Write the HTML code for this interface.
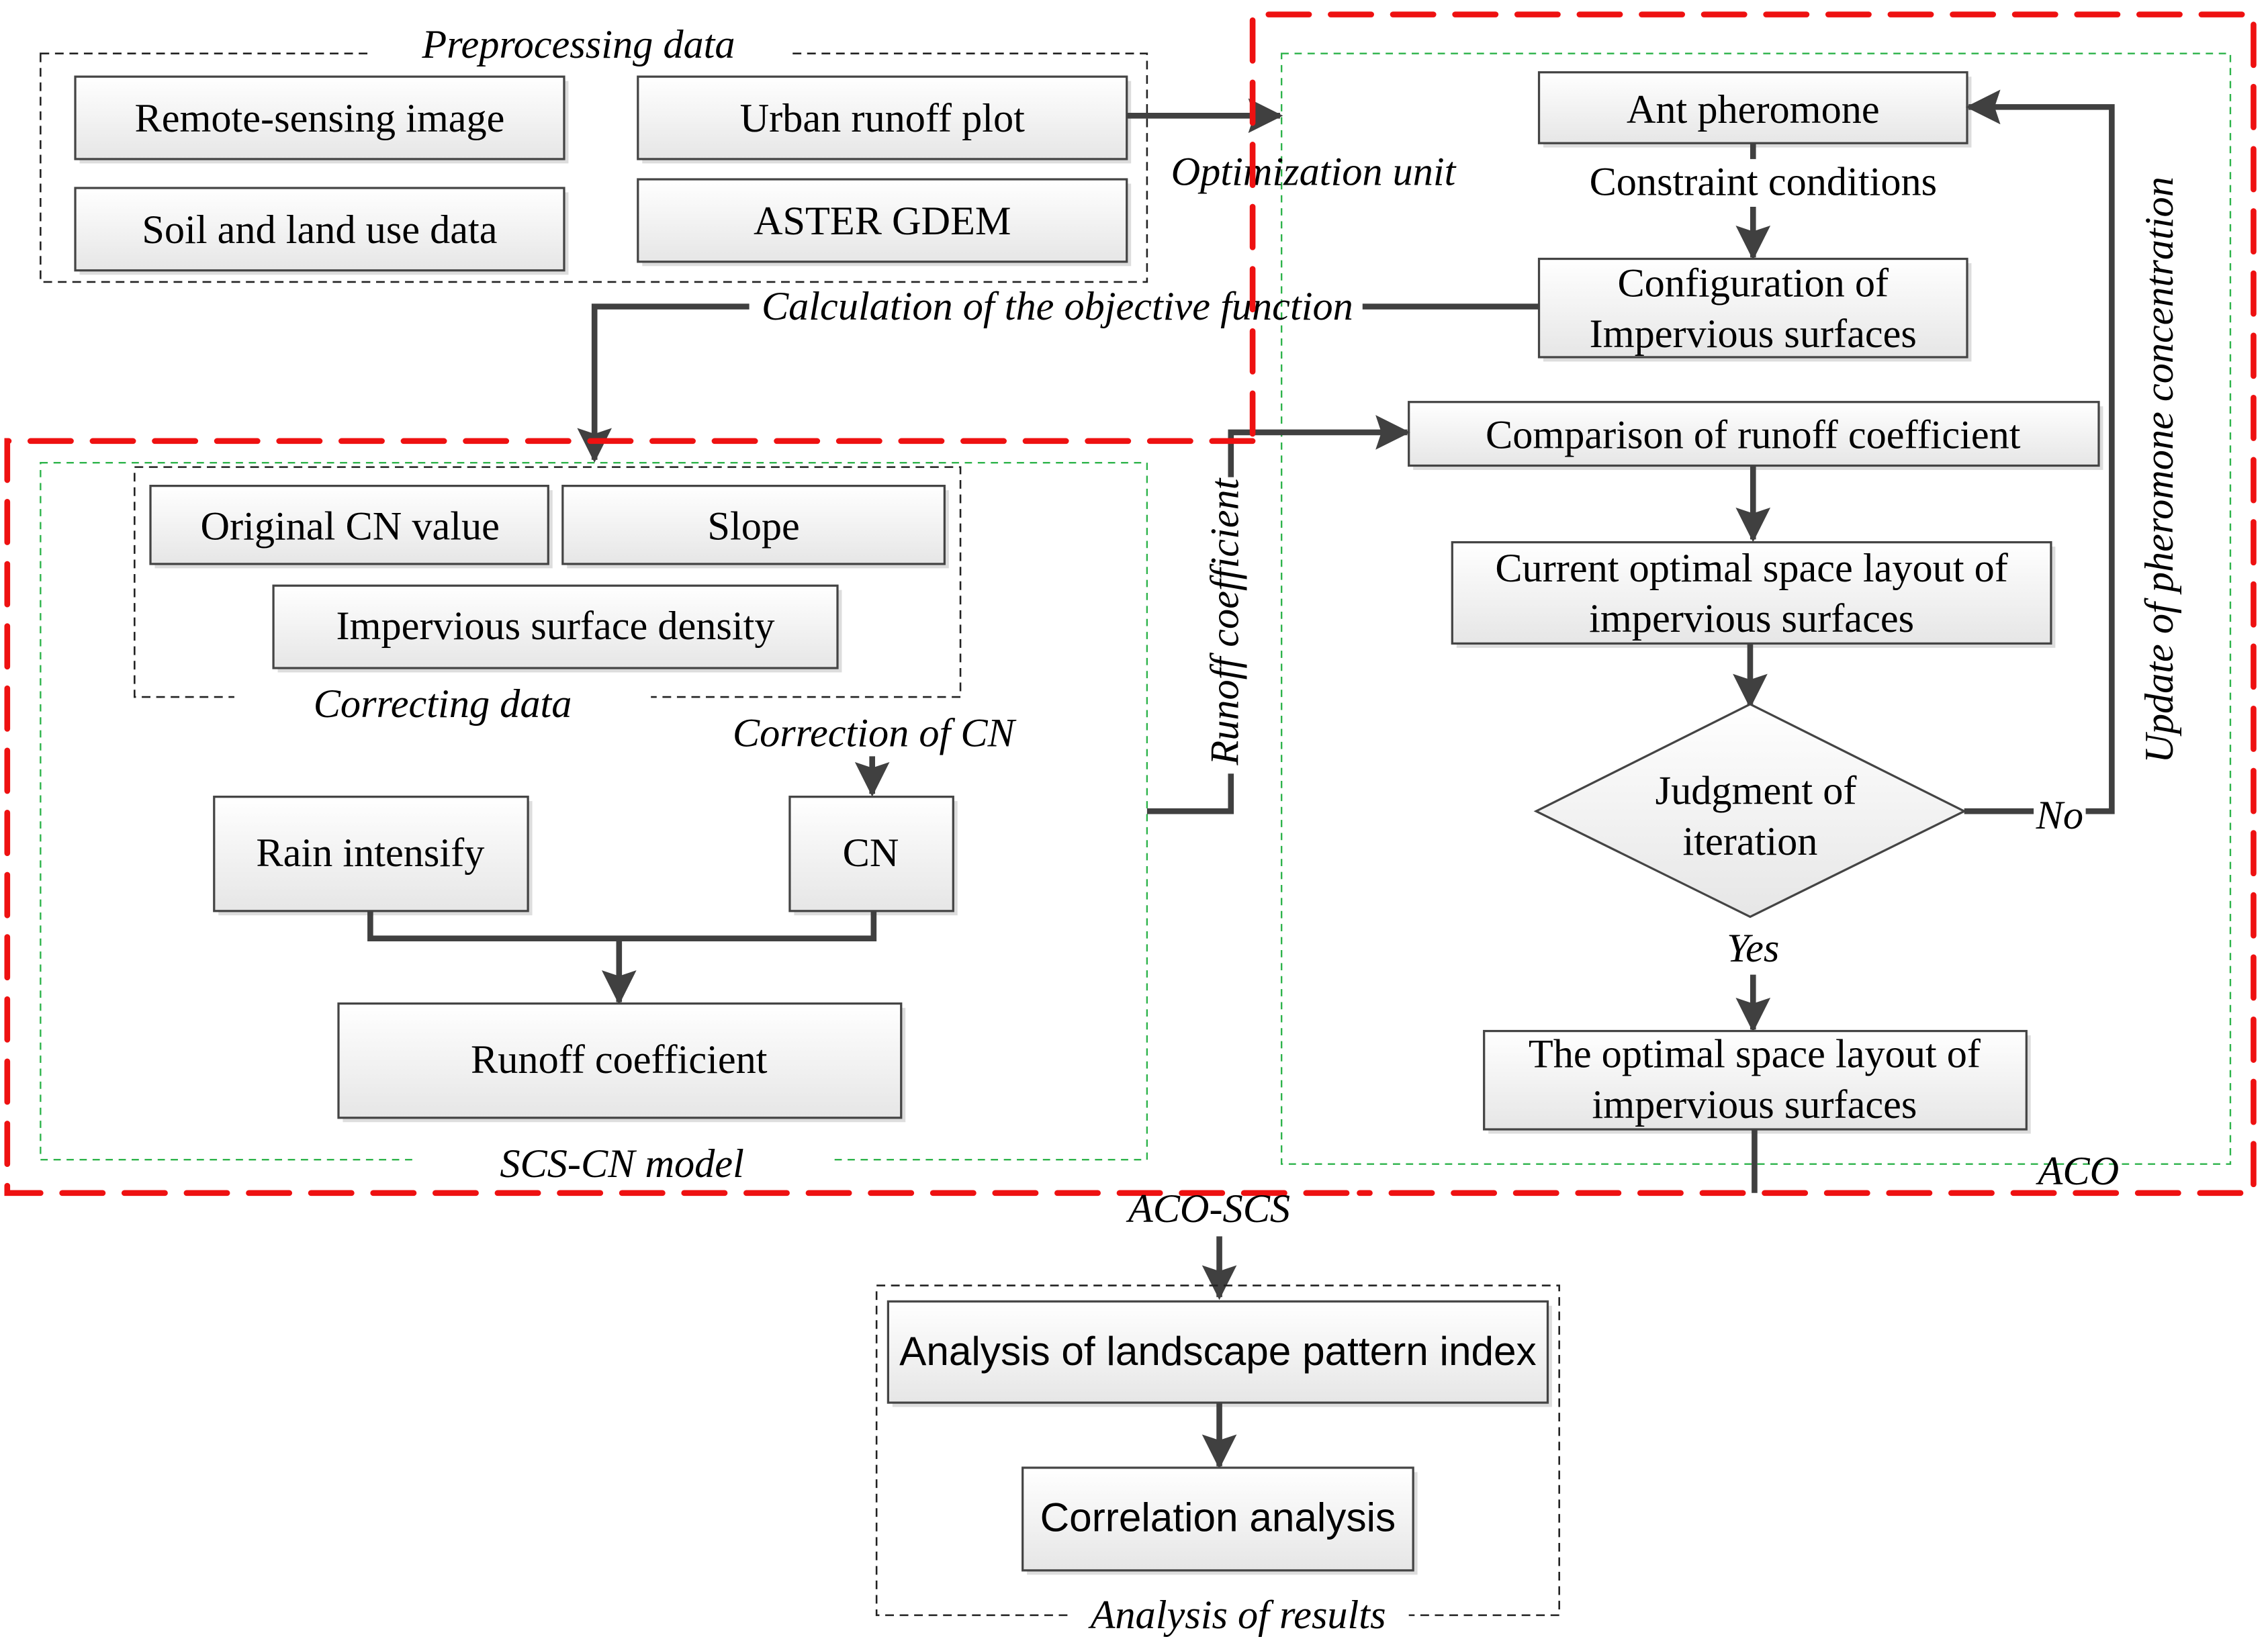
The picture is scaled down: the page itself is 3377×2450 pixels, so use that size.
<!DOCTYPE html>
<html><head><meta charset="utf-8"><style>html,body{margin:0;padding:0;background:#fff}svg{display:block}</style></head>
<body>
<svg width="3377" height="2450" viewBox="0 0 1568 1137.6" xmlns="http://www.w3.org/2000/svg" font-family="'Liberation Serif',serif" font-size="28">
<defs>
<linearGradient id="g" x1="0" y1="0" x2="0" y2="1"><stop offset="0" stop-color="#ffffff"/><stop offset="1" stop-color="#e6e6e6"/></linearGradient>
<marker id="a" markerWidth="24" markerHeight="24" refX="22" refY="12" orient="auto" markerUnits="userSpaceOnUse" viewBox="0 0 24 24"><path d="M0,0 L24,12 L0,24 L4,12 z" fill="#404040"/></marker>
</defs>
<style>
.b{fill:url(#g);stroke:#444;stroke-width:1.5}
.s{fill:#ddd}
.d{fill:none;stroke:#222;stroke-width:1.2;stroke-dasharray:6,4}
.gr{fill:none;stroke:#2db34a;stroke-width:1.1;stroke-dasharray:5,4}
.r{fill:none;stroke:#ee1111;stroke-width:4;stroke-dasharray:28,15;stroke-linecap:round}
.l{fill:none;stroke:#404040;stroke-width:4}
.la{fill:none;stroke:#404040;stroke-width:4;marker-end:url(#a)}
text{text-anchor:middle;fill:#000}
.i{font-style:italic}
.sans{font-family:'Liberation Sans',sans-serif;font-size:23.5}
</style>

<rect class="d" x="28" y="37" width="765" height="158"/>
<rect x="255" y="25" width="290" height="20" fill="#fff"/>
<text class="i" x="400" y="40">Preprocessing data</text>
<g>
<rect class="s" x="55" y="56" width="338" height="57"/><rect class="b" x="52" y="53" width="338" height="57"/><text x="221" y="91">Remote-sensing image</text>
<rect class="s" x="55" y="133" width="338" height="57"/><rect class="b" x="52" y="130" width="338" height="57"/><text x="221" y="168">Soil and land use data</text>
<rect class="s" x="444" y="56" width="338" height="57"/><rect class="b" x="441" y="53" width="338" height="57"/><text x="610" y="91">Urban runoff plot</text>
<rect class="s" x="444" y="127" width="338" height="57"/><rect class="b" x="441" y="124" width="338" height="57"/><text x="610" y="162">ASTER GDEM</text>
</g>
<line class="la" x1="779" y1="80" x2="885" y2="80"/>

<rect class="gr" x="886" y="37" width="656" height="768"/>
<text class="i" x="908" y="128">Optimization unit</text>

<rect class="s" x="1067" y="53" width="296" height="49"/><rect class="b" x="1064" y="50" width="296" height="49"/><text x="1212" y="85">Ant pheromone</text>
<line class="l" x1="1212" y1="99" x2="1212" y2="110"/>
<text x="1219" y="135">Constraint conditions</text>
<line class="la" x1="1212" y1="143" x2="1212" y2="178"/>
<rect class="s" x="1067" y="182" width="296" height="68"/><rect class="b" x="1064" y="179" width="296" height="68"/><text x="1212" y="205">Configuration of</text><text x="1212" y="240">Impervious surfaces</text>

<polyline class="l" points="1064,212 942,212"/>
<text class="i" x="731" y="221">Calculation of the objective function</text>
<polyline class="la" points="518,212 411,212 411,318"/>

<rect class="s" x="977" y="281" width="477" height="44"/><rect class="b" x="974" y="278" width="477" height="44"/><text x="1212" y="310">Comparison of runoff coefficient</text>
<line class="la" x1="1212" y1="322" x2="1212" y2="373"/>
<rect class="s" x="1007" y="378" width="414" height="70"/><rect class="b" x="1004" y="375" width="414" height="70"/><text x="1211" y="402">Current optimal space layout of</text><text x="1211" y="437">impervious surfaces</text>
<line class="la" x1="1210" y1="445" x2="1210" y2="488"/>
<polygon points="1210,487 1358,561 1210,634 1062,561" fill="url(#g)" stroke="#444" stroke-width="1.5"/>
<text x="1214" y="556">Judgment of</text><text x="1210" y="591">iteration</text>
<polyline class="la" points="1358,561 1460,561 1460,74 1361,74"/>
<rect x="1406" y="550" width="36" height="26" fill="#fff"/>
<text class="i" x="1424" y="573">No</text>
<text class="i" x="1502" y="325" transform="rotate(-90 1502 325)">Update of pheromone concentration</text>
<text class="i" x="1212" y="665">Yes</text>
<line class="la" x1="1212" y1="674" x2="1212" y2="712"/>
<rect class="s" x="1029" y="716" width="375" height="68"/><rect class="b" x="1026" y="713" width="375" height="68"/><text x="1213" y="738">The optimal space layout of</text><text x="1213" y="773">impervious surfaces</text>
<line class="l" x1="1213" y1="781" x2="1213" y2="825"/>
<text class="i" x="1437" y="819">ACO</text>

<rect class="gr" x="28" y="320" width="765" height="482"/>
<rect x="288" y="795" width="286" height="14" fill="#fff"/>
<text class="i" x="430" y="814">SCS-CN model</text>
<rect class="d" x="93" y="323" width="571" height="159"/>
<rect x="162" y="476" width="288" height="12" fill="#fff"/>
<text class="i" x="306" y="496">Correcting data</text>
<rect class="s" x="107" y="339" width="275" height="54"/><rect class="b" x="104" y="336" width="275" height="54"/><text x="242" y="373">Original CN value</text>
<rect class="s" x="392" y="339" width="264" height="54"/><rect class="b" x="389" y="336" width="264" height="54"/><text x="521" y="373">Slope</text>
<rect class="s" x="192" y="408" width="390" height="57"/><rect class="b" x="189" y="405" width="390" height="57"/><text x="384" y="442">Impervious surface density</text>
<text class="i" x="604" y="516">Correction of CN</text>
<line class="la" x1="603" y1="523" x2="603" y2="549"/>
<rect class="s" x="151" y="554" width="217" height="79"/><rect class="b" x="148" y="551" width="217" height="79"/><text x="256" y="599">Rain intensify</text>
<rect class="s" x="549" y="554" width="113" height="79"/><rect class="b" x="546" y="551" width="113" height="79"/><text x="602" y="599">CN</text>
<polyline class="l" points="256,630 256,649 604,649 604,630"/>
<line class="la" x1="428" y1="649" x2="428" y2="693"/>
<rect class="s" x="237" y="697" width="389" height="79"/><rect class="b" x="234" y="694" width="389" height="79"/><text x="428" y="742">Runoff coefficient</text>
<polyline class="la" points="793,561 851,561 851,299 973,299"/>
<rect x="836" y="330" width="30" height="205" fill="#fff"/>
<text class="i" x="856" y="430" transform="rotate(-90 856 430)">Runoff coefficient</text>

<polyline class="r" points="866,300 866,10 1558,10 1558,825 940,825"/>
<polyline class="r" points="866,305 5,305 5,825 940,825"/>

<text class="i" x="836" y="845">ACO-SCS</text>
<line class="la" x1="843" y1="855" x2="843" y2="897"/>
<rect class="d" x="606" y="889" width="472" height="228"/>
<rect x="738" y="1108" width="236" height="16" fill="#fff"/>
<text class="i" x="856" y="1126">Analysis of results</text>
<rect class="s" x="617" y="903" width="456" height="70"/><rect class="b" x="614" y="900" width="456" height="70"/><text class="sans" x="842" y="944">Analysis of landscape pattern index</text>
<line class="la" x1="843" y1="970" x2="843" y2="1014"/>
<rect class="s" x="710" y="1018" width="270" height="71"/><rect class="b" x="707" y="1015" width="270" height="71"/><text class="sans" x="842" y="1059">Correlation analysis</text>
</svg>
</body></html>
